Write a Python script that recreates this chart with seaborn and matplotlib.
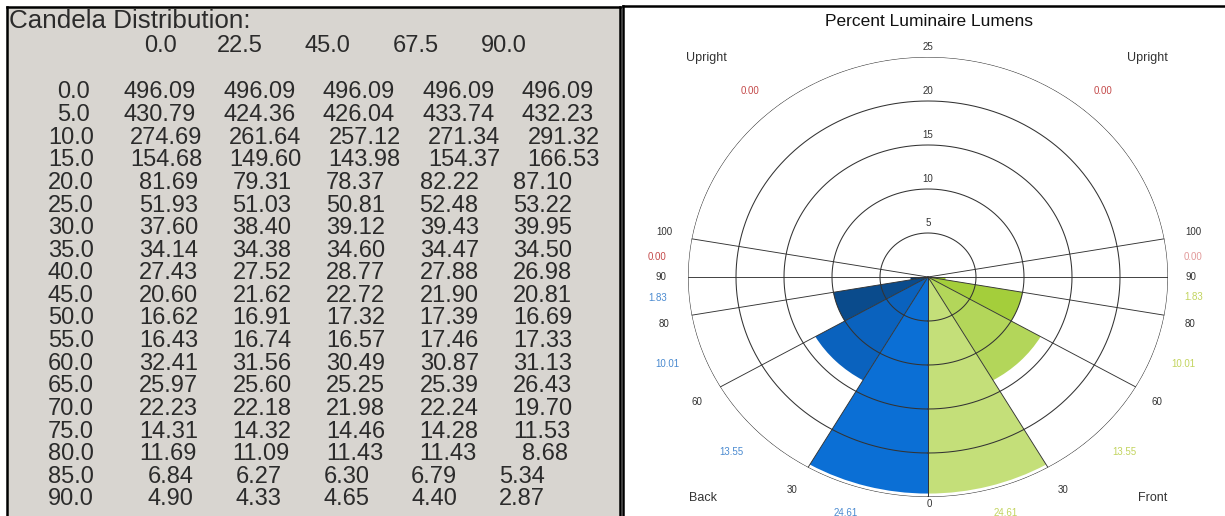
import numpy as np
import matplotlib
matplotlib.use("Agg")
import matplotlib.pyplot as plt
import seaborn as sns

sns.set_theme(style="white")
plt.rcParams["font.family"] = ["Liberation Sans", "DejaVu Sans"]

# ---- candela table -------------------------------------------------------
horizontal_angles = [0.0, 22.5, 45.0, 67.5, 90.0]
vertical_angles = [0.0, 5.0, 10.0, 15.0, 20.0, 25.0, 30.0, 35.0, 40.0, 45.0,
                   50.0, 55.0, 60.0, 65.0, 70.0, 75.0, 80.0, 85.0, 90.0]
cd_h000 = [496.09, 430.79, 274.69, 154.68, 81.69, 51.93, 37.60, 34.14, 27.43, 20.60,
           16.62, 16.43, 32.41, 25.97, 22.23, 14.31, 11.69, 6.84, 4.90]
cd_h225 = [496.09, 424.36, 261.64, 149.60, 79.31, 51.03, 38.40, 34.38, 27.52, 21.62,
           16.91, 16.74, 31.56, 25.60, 22.18, 14.32, 11.09, 6.27, 4.33]
cd_h450 = [496.09, 426.04, 257.12, 143.98, 78.37, 50.81, 39.12, 34.60, 28.77, 22.72,
           17.32, 16.57, 30.49, 25.25, 21.98, 14.46, 11.43, 6.30, 4.65]
cd_h675 = [496.09, 433.74, 271.34, 154.37, 82.22, 52.48, 39.43, 34.47, 27.88, 21.90,
           17.39, 17.46, 30.87, 25.39, 22.24, 14.28, 11.43, 6.79, 4.40]
cd_h900 = [496.09, 432.23, 291.32, 166.53, 87.10, 53.22, 39.95, 34.50, 26.98, 20.81,
           16.69, 17.33, 31.13, 26.43, 19.70, 11.53, 8.68, 5.34, 2.87]

# ---- zonal lumen summary ---------------------------------------------------
zone_start = [0, 30, 60, 80, 90]
zone_end = [30, 60, 80, 90, 100]
front_pct = [24.61, 13.55, 10.01, 1.83, 0.00]
back_pct = [24.61, 13.55, 10.01, 1.83, 0.00]
upright_back = 0.00
upright_front = 0.00
ring_values = [5, 10, 15, 20, 25]
angle_marks = [0, 30, 60, 80, 90, 100]

front_colors = sns.color_palette(["#c4df79", "#b3d65a", "#a4ce3b", "#97c826", "#97c826"])
back_colors = sns.color_palette(["#0b6fd5", "#0a62be", "#0a4b8c", "#083d72", "#083d72"])

W, H = 1225, 516
fig = plt.figure(figsize=(W / 100, H / 100), dpi=100)
fig.patch.set_facecolor("white")


def fx(x):
    return x / W


def fy(y):
    return 1 - y / H


# ---- left panel: text table ------------------------------------------------
ax_t = fig.add_axes([fx(7), fy(540), (620 - 7) / W, (540 - 7) / H])
ax_t.set_facecolor("#d8d5d0")
ax_t.set_xlim(7, 620)
ax_t.set_ylim(540, 7)
ax_t.set_xticks([])
ax_t.set_yticks([])
for sp in ax_t.spines.values():
    sp.set_color("black")
    sp.set_linewidth(1.8)

DIG, DOT, SPC = 14.8, 7.4, 9.0
FS = 17.0
TXT = "#2b2b2b"


def field_width(s):
    w = 0.0
    for ch in s:
        w += DIG if ch.isdigit() else (DOT if ch == "." else SPC)
    return w


def draw_fields(y, x0, fields, size=FS):
    x = x0
    for f in fields:
        body = f.lstrip(" ")
        lead = len(f) - len(body)
        ax_t.text(x + lead * SPC, y + 0.36 * size * 100 / 72, body,
                  ha="left", va="baseline", fontsize=size, color=TXT)
        x += field_width(f)


ax_t.text(9, 19 + 0.36 * FS * 1.1 * 100 / 72, "Candela Distribution:",
          ha="left", va="baseline", fontsize=FS * 1.1, color=TXT)
draw_fields(44, 99, [f"{h:8.1f}" for h in horizontal_angles])

columns = [cd_h000, cd_h225, cd_h450, cd_h675, cd_h900]
row_y0, row_dy = 90, 22.6
for i, va in enumerate(vertical_angles):
    y = row_y0 + i * row_dy
    label = f"{va:5.1f}"
    draw_fields(y, 39, [label])
    x_vals = 39 + field_width(label) + 12
    draw_fields(y, x_vals, [f"{col[i]:8.2f}" for col in columns])

# ---- right panel: percent luminaire lumens --------------------------------
ax_r = fig.add_axes([fx(622.5), fy(540), (1260 - 622.5) / W, (540 - 6) / H])
ax_r.set_facecolor("white")
ax_r.set_xticks([])
ax_r.set_yticks([])
for sp in ax_r.spines.values():
    sp.set_color("black")
    sp.set_linewidth(1.8)

ax_p = fig.add_axes([fx(688), fy(497), 480 / W, 440 / H], projection="polar")
ax_p.set_aspect("auto")
ax_p.set_theta_zero_location("S")
ax_p.set_theta_direction(1)
ax_p.set_ylim(0, 25)
ax_p.grid(False)
ax_p.set_xticks([])
ax_p.set_yticks([])
ax_p.spines["polar"].set_visible(False)
ax_p.patch.set_alpha(0)

starts = np.deg2rad(zone_start)
widths = np.deg2rad(np.array(zone_end) - np.array(zone_start))
ax_p.bar(starts, front_pct, width=widths, align="edge",
         color=front_colors, linewidth=0, zorder=2)
ax_p.bar(-np.deg2rad(zone_end), back_pct, width=widths, align="edge",
         color=back_colors, linewidth=0, zorder=2)

theta = np.linspace(0, 2 * np.pi, 1441)
for r in ring_values:
    ax_p.plot(theta, np.full_like(theta, r), color="#333333", lw=0.75, zorder=3)
    ax_p.text(np.pi, r + 1.1, f"{r}", ha="center", va="center",
              fontsize=7, color="#333333", zorder=4)

for a in angle_marks:
    for sgn in (1, -1):
        t = sgn * np.deg2rad(a)
        ax_p.plot([t, t], [0, ring_values[-1]], color="#333333", lw=0.65, zorder=3)


def ptext(x, y, s, size=7, color="#333333", **kw):
    fig.text(fx(x), fy(y), s, ha="center", va="center", fontsize=size,
             color=color, **kw)


ptext(929, 22, "Percent Luminaire Lumens", size=12.5, color="#111111")
ptext(706, 58, "Upright", size=9)
ptext(1147, 58, "Upright", size=9)
ptext(703, 498, "Back", size=9)
ptext(1153, 498, "Front", size=9)

# zone angle marks around the rim
left_mark_xy = {100: (664, 232), 90: (661, 277), 80: (664, 324), 60: (697, 402), 30: (792, 490)}
right_mark_xy = {100: (1193, 232), 90: (1191, 277), 80: (1190, 324), 60: (1157, 402), 30: (1063, 490)}
for a in angle_marks[1:]:
    ptext(*left_mark_xy[a], f"{a}")
    ptext(*right_mark_xy[a], f"{a}")
ptext(929, 504, f"{angle_marks[0]}")

# zone percentages
blue_txt, green_txt = "#4a8ad0", "#c2d45e"
red_l, red_r = "#c44a4a", "#e29a9a"
left_val_xy = [(846, 513), (731, 452), (667, 364), (658, 298), (657, 257)]
right_val_xy = [(1006, 513), (1124, 452), (1183, 364), (1194, 297), (1193, 257)]
for k in range(len(zone_start)):
    cl = red_l if zone_start[k] >= 90 else blue_txt
    cr = red_r if zone_start[k] >= 90 else green_txt
    ptext(*left_val_xy[k], f"{back_pct[k]:.2f}", color=cl)
    ptext(*right_val_xy[k], f"{front_pct[k]:.2f}", color=cr)
ptext(750, 91, f"{upright_back:.2f}", color=red_l)
ptext(1103, 91, f"{upright_front:.2f}", color=red_l)

fig.savefig("out.png", dpi=100, facecolor="white")
